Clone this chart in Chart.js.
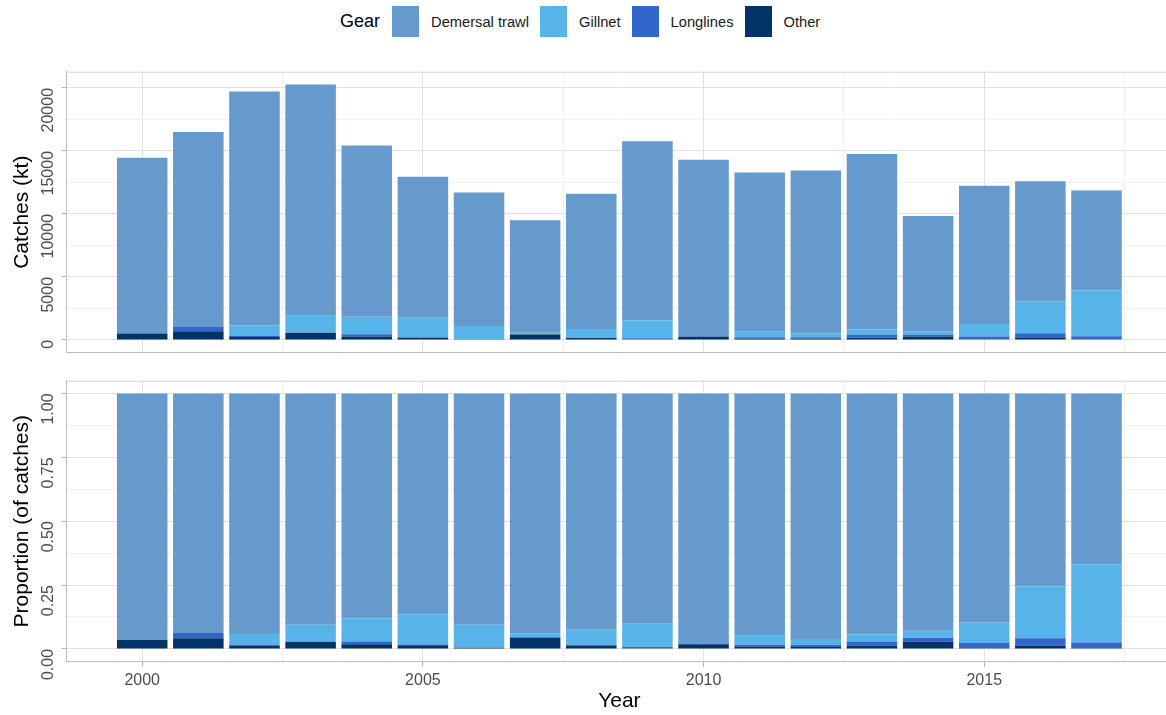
<!DOCTYPE html>
<html>
<head>
<meta charset="utf-8">
<title>Catches by gear</title>
<script src="https://cdn.jsdelivr.net/npm/chart.js@4.4.1/dist/chart.umd.min.js"></script>
<style>
  html, body { margin: 0; padding: 0; background: #fff; width: 1166px; height: 715px; overflow: hidden; }
  .panel { position: absolute; left: 0; width: 1180px; }
  #topPanel { top: 60px; height: 300px; }
  #bottomPanel { top: 370px; height: 345px; }
  #legend {
    position: absolute; top: 6px; left: 340px; display: flex; align-items: center;
    font-family: "Liberation Sans", Arial, sans-serif; font-size: 14.7px; color: #1a1a1a;
  }
  #legend .title { font-size: 18px; margin-right: 12px; color: #000; }
  #legend .key { width: 27px; height: 31px; }
  #legend .lab { margin-left: 12px; margin-right: 11px; }
</style>
</head>
<body>
<div id="legend"></div>
<div class="panel" id="topPanel"><canvas id="catchChart"></canvas></div>
<div class="panel" id="bottomPanel"><canvas id="propChart"></canvas></div>
<script>
// catches by gear, kt
const years     = [2000, 2001, 2002, 2003, 2004, 2005, 2006, 2007, 2008, 2009, 2010, 2011, 2012, 2013, 2014, 2015, 2016, 2017];
const demersal  = [13946, 15485, 18575, 18348, 13589, 11188, 10594, 8913, 10733, 14204, 13993, 12598, 12922, 13941, 9135, 10976, 9527, 7937];
const gillnet   = [0, 0, 809, 1338, 1388, 1541, 1054, 152, 685, 1419, 0, 478, 309, 399, 265, 979, 2545, 3631];
const longlines = [0, 330, 99, 41, 170, 39, 0, 0, 35, 95, 43, 93, 108, 251, 147, 245, 378, 261];
const other     = [506, 693, 237, 547, 278, 181, 59, 427, 151, 47, 257, 120, 108, 177, 285, 37, 151, 36];

const gearNames  = ['Demersal trawl', 'Gillnet', 'Longlines', 'Other'];
const gearColors = ['#6699CC', '#56B4E9', '#3366CC', '#003366'];

const catchTicks  = [0, 5000, 10000, 15000, 20000];
const catchLabels = ['0', '5000', '10000', '15000', '20000'];
const propTicks   = [0, 0.25, 0.5, 0.75, 1];
const propLabels  = ['0.00', '0.25', '0.50', '0.75', '1.00'];
const yearTicks   = [2000, 2005, 2010, 2015];

const FONT = '"Liberation Sans", Arial, sans-serif';
const MAJOR = '#E2E2E2', MINOR = '#F1F1F1', FRAME = '#BDBDBD';

// legend
const legend = document.getElementById('legend');
legend.innerHTML = '<span class="title">Gear</span>' + gearNames.map((n, i) =>
  `<span class="key" style="background:${gearColors[i]}"></span><span class="lab">${n}</span>`).join('');

const series = [demersal, gillnet, longlines, other];
const totals = years.map((_, i) => series.reduce((s, arr) => s + arr[i], 0));

// stacked bottom-up: Other, Longlines, Gillnet, Demersal trawl
const makeSets = (toY) => [3, 2, 1, 0].map(k => ({
  label: gearNames[k],
  data: years.map((yr, i) => ({ x: yr, y: toY(series[k][i], i) })),
  backgroundColor: gearColors[k],
  borderWidth: 0,
  categoryPercentage: 1,
  barPercentage: 0.9
}));

// panel top edge + rotated y labels
const panelDecor = {
  id: 'panelDecor',
  afterDraw(chart, args, opts) {
    const { ctx, chartArea, scales } = chart;
    ctx.save();
    ctx.strokeStyle = '#D6D6D6';
    ctx.lineWidth = 1;
    ctx.beginPath();
    ctx.moveTo(chartArea.left, chartArea.top + 0.5);
    ctx.lineTo(chartArea.right, chartArea.top + 0.5);
    ctx.stroke();

    ctx.fillStyle = '#4D4D4D';
    ctx.font = '16px ' + FONT;
    ctx.textAlign = 'right';
    ctx.textBaseline = 'middle';
    opts.ticks.forEach((v, i) => {
      const y = scales.y.getPixelForValue(v);
      ctx.save();
      ctx.translate(49, y);
      ctx.rotate(-Math.PI / 2);
      ctx.fillText(opts.labels[i], 0, 0);
      ctx.restore();
    });
    ctx.restore();
  }
};

const xScale = (showLabels) => ({
  type: 'linear',
  stacked: true,
  offset: false,
  min: 1998.655,
  max: 2018.345,
  afterBuildTicks: s => { s.ticks = [2000, 2002.5, 2005, 2007.5, 2010, 2012.5, 2015, 2017.5].map(v => ({ value: v })); },
  afterFit: s => { s.height = showLabels ? 53.3 : 7.3; },
  grid: {
    offset: false,
    color: c => (c.tick && c.tick.value % 5 === 0) ? MAJOR : MINOR,
    drawTicks: showLabels,
    tickLength: 5,
    tickColor: c => (c.tick && c.tick.value % 5 === 0) ? '#B3B3B3' : 'rgba(0,0,0,0)'
  },
  border: { display: true, color: FRAME, width: 1 },
  ticks: {
    display: showLabels,
    autoSkip: false,
    maxRotation: 0,
    padding: 4,
    color: '#4D4D4D',
    font: { family: FONT, size: 16 },
    callback: v => yearTicks.includes(v) ? String(v) : ''
  },
  title: {
    display: showLabels,
    text: 'Year',
    color: '#000',
    font: { family: FONT, size: 21 },
    padding: { top: 0, bottom: 1 }
  }
});

const yScale = (min, max, step, major, title) => ({
  stacked: true,
  min: min,
  max: max,
  afterBuildTicks: s => {
    const t = [];
    for (let v = 0; v <= max + 1e-9; v += step) t.push({ value: +v.toFixed(4) });
    s.ticks = t;
  },
  afterFit: s => { s.width = 66.7; },
  grid: {
    color: c => (c.tick && Math.abs(c.tick.value / major - Math.round(c.tick.value / major)) < 1e-6) ? MAJOR : MINOR,
    drawTicks: true,
    tickLength: 5,
    tickColor: c => (c.tick && Math.abs(c.tick.value / major - Math.round(c.tick.value / major)) < 1e-6) ? '#B3B3B3' : 'rgba(0,0,0,0)'
  },
  border: { display: true, color: FRAME, width: 1 },
  ticks: { display: false },
  title: {
    display: true,
    text: title,
    color: '#000',
    font: { family: FONT, size: 21 },
    padding: { top: 10, bottom: 0 }
  }
});

new Chart(document.getElementById('catchChart'), {
  type: 'bar',
  data: { datasets: makeSets(v => v) },
  options: {
    responsive: true,
    maintainAspectRatio: false,
    animation: false,
    layout: { padding: { top: 11.7, right: 8, bottom: 0, left: 0 } },
    plugins: {
      legend: { display: false },
      tooltip: { enabled: false },
      panelDecor: { ticks: catchTicks, labels: catchLabels }
    },
    scales: {
      x: xScale(false),
      y: yScale(-1010, 21290, 2500, 5000, 'Catches (kt)')
    }
  },
  plugins: [panelDecor]
});

new Chart(document.getElementById('propChart'), {
  type: 'bar',
  data: { datasets: makeSets((v, i) => v / totals[i]) },
  options: {
    responsive: true,
    maintainAspectRatio: false,
    animation: false,
    layout: { padding: { top: 10.7, right: 8, bottom: 0, left: 0 } },
    plugins: {
      legend: { display: false },
      tooltip: { enabled: false },
      panelDecor: { ticks: propTicks, labels: propLabels }
    },
    scales: {
      x: xScale(true),
      y: yScale(-0.05, 1.05, 0.125, 0.25, 'Proportion (of catches)')
    }
  },
  plugins: [panelDecor]
});
</script>
</body>
</html>
